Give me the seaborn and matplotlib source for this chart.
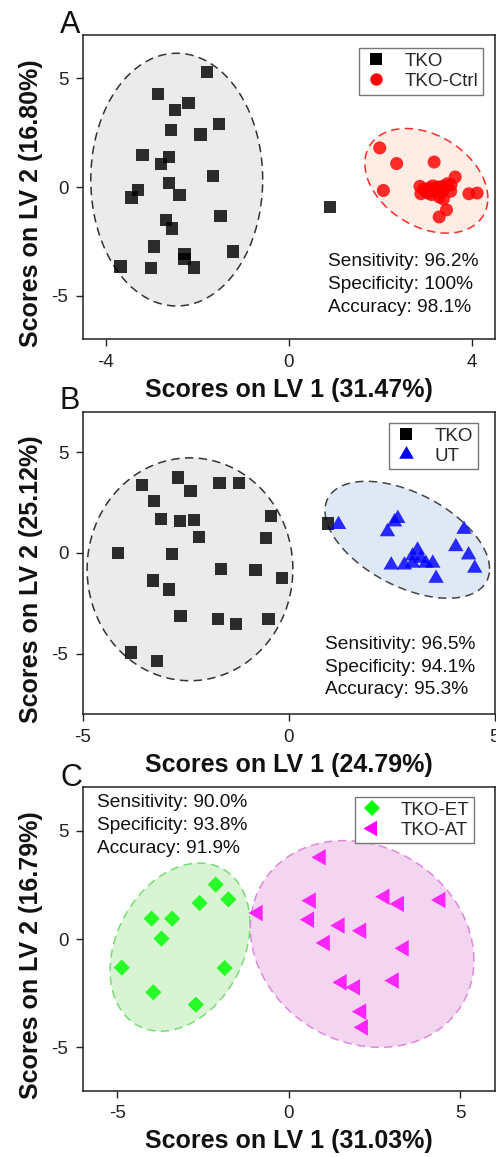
import numpy as np
import pandas as pd
import matplotlib
matplotlib.use("Agg")
import matplotlib.pyplot as plt
from matplotlib.lines import Line2D
import seaborn as sns

sns.set_style("ticks")
plt.rcParams["font.family"] = ["Liberation Sans", "DejaVu Sans"]
plt.rcParams["axes.unicode_minus"] = False

# ---------------- Panel A data ----------------
A_tko_x = [-1.79, -2.86, -2.19, -2.49, -1.53, -2.57, -1.93, -3.20, -2.62, -2.79,
           -1.66, -3.29, -3.44, -2.62, -2.39, -2.68, -2.55, -1.49, -2.95, -2.28,
           -2.28, -2.08, -1.22, -3.68, -3.02, 0.91]
A_tko_y = [5.31, 4.29, 3.86, 3.55, 2.91, 2.63, 2.42, 1.49, 1.38, 1.06,
           0.51, -0.14, -0.48, 0.17, -0.37, -1.51, -1.91, -1.32, -2.74, -3.08,
           -3.32, -3.71, -2.97, -3.66, -3.74, -0.92]
A_ctrl_x = [1.99, 2.36, 3.18, 2.07, 2.87, 2.89, 3.07, 3.22, 3.36, 3.47, 3.64, 3.29,
            3.54, 3.45, 3.29, 3.94, 4.12, 3.00, 3.12, 3.40, 3.30, 3.15, 2.95, 3.55,
            3.25, 3.38, 3.05]
A_ctrl_y = [1.80, 1.08, 1.15, -0.16, 0.03, -0.31, -0.05, -0.12, 0.03, 0.15, 0.46, -0.46,
            -0.20, -1.05, -1.38, -0.31, -0.28, -0.20, -0.35, -0.10, -0.25, 0.05, -0.10, 0.10,
            0.00, -0.55, -0.28]

# ---------------- Panel B data ----------------
B_tko_x = [-3.56, -2.69, -2.39, -1.68, -1.21, -3.28, -3.11, -2.64, -2.31, -2.18,
           -0.43, -0.55, -4.15, -2.84, -1.64, -0.81, -0.17, -3.30, -2.91, -2.63,
           -1.72, -1.28, -0.49, -3.83, -3.20, 0.95]
B_tko_y = [3.38, 3.73, 3.07, 3.48, 3.48, 2.56, 1.67, 1.58, 1.63, 0.79,
           1.82, 0.74, 0.00, -0.07, -0.79, -0.87, -1.24, -1.37, -1.82, -3.12,
           -3.27, -3.55, -3.30, -4.95, -5.36, 1.45]
B_ut_x = [1.21, 2.65, 2.57, 2.40, 3.13, 3.01, 3.21, 2.49, 2.81, 3.01, 3.33, 3.50,
          3.58, 4.26, 4.06, 4.37, 4.52]
B_ut_y = [1.40, 1.70, 1.53, 1.04, 0.13, -0.16, -0.28, -0.61, -0.61, -0.52, -0.52, -0.52,
          -1.27, 1.16, 0.30, -0.11, -0.77]

# ---------------- Panel C data ----------------
C_et_x = [-2.13, -2.60, -1.76, -4.00, -3.40, -3.71, -4.87, -1.87, -3.95, -2.71]
C_et_y = [2.51, 1.66, 1.83, 0.94, 0.94, 0.02, -1.32, -1.34, -2.46, -3.03]
C_at_x = [0.94, -0.90, 0.65, 0.60, 2.80, 3.22, 4.43, 1.49, 2.12, 1.06, 3.36, 1.55,
          1.94, 3.07, 2.12, 2.17]
C_at_y = [3.77, 1.20, 1.77, 0.89, 1.95, 1.62, 1.80, 0.62, 0.38, -0.18, -0.43, -2.00,
          -2.23, -1.92, -3.35, -4.08]

# ellipse parameters: center x, center y, half-range x, half-range y, phase
ell_A = [(-2.45, 0.34, 1.88, 5.82, 0.0), (3.01, 0.285, 1.345, 2.41, -0.336)]
ell_B = [(-2.40, -0.82, 2.50, 5.53, 0.0), (2.88, 0.645, 2.00, 2.90, -0.52)]
ell_C = [(-3.17, -0.375, 2.04, 3.88, 0.28), (2.14, -0.23, 3.26, 4.77, -0.16)]

labels_A = ["TKO", "TKO-Ctrl"]
labels_B = ["TKO", "UT"]
labels_C = ["TKO-ET", "TKO-AT"]

stats_A = "Sensitivity: 96.2%\nSpecificity: 100%\nAccuracy: 98.1%"
stats_B = "Sensitivity: 96.5%\nSpecificity: 94.1%\nAccuracy: 95.3%"
stats_C = "Sensitivity: 90.0%\nSpecificity: 93.8%\nAccuracy: 91.9%"

xlab = ["Scores on LV 1 (31.47%)", "Scores on LV 1 (24.79%)", "Scores on LV 1 (31.03%)"]
ylab = ["Scores on LV 2 (16.80%)", "Scores on LV 2 (25.12%)", "Scores on LV 2 (16.79%)"]

colors = {"TKO": "#000000", "TKO-Ctrl": "#ff0000", "UT": "#0000ff",
          "TKO-ET": "#00ff00", "TKO-AT": "#ff00ff"}
markers = {"TKO": "s", "TKO-Ctrl": "o", "UT": (3, 0, 0),
           "TKO-ET": "D", "TKO-AT": (3, 0, 90)}
sizes = {"TKO": 78, "TKO-Ctrl": 88, "UT": 165, "TKO-ET": 68, "TKO-AT": 190}

fig = plt.figure(figsize=(4.96, 11.57), dpi=100)
W, H = 496.0, 1157.0
boxes = [(83, 35, 339), (83, 411.7, 714), (83, 787.3, 1090.7)]
axes = []
for (l, t, b) in boxes:
    axes.append(fig.add_axes([l / W, 1 - b / H, (494.5 - l) / W, (b - t) / H]))


def ellipse(ax, p, fc, ec):
    cx, cy, a, bb, ph = p
    t = np.linspace(0, 2 * np.pi, 300)
    x = cx + a * np.cos(t)
    y = cy + bb * np.sin(t + ph)
    ax.fill(x, y, facecolor=fc, edgecolor="none", zorder=1)
    ax.plot(x, y, color=ec, lw=1.1, ls=(0, (5.5, 3.5)), zorder=2)


def panel(ax, groups, ells, ell_colors, labels, stats, stats_pos, xlim, ylim,
          xticks, leg_anchor, xl, yl):
    for p, (fc, ec) in zip(ells, ell_colors):
        ellipse(ax, p, fc, ec)
    frames = []
    for name, (xs, ys) in zip(labels, groups):
        frames.append(pd.DataFrame({"LV1": xs, "LV2": ys, "group": name}))
    df = pd.concat(frames, ignore_index=True)
    sns.scatterplot(data=df, x="LV1", y="LV2", hue="group", style="group",
                    size="group", palette={k: colors[k] for k in labels},
                    markers={k: markers[k] for k in labels},
                    sizes={k: sizes[k] for k in labels},
                    alpha=0.82, linewidth=0, edgecolor="none", legend=False,
                    ax=ax, zorder=3)
    ax.set_xlim(*xlim)
    ax.set_ylim(*ylim)
    ax.set_xticks(xticks)
    ax.set_yticks([-5, 0, 5])
    ax.tick_params(direction="out", length=5, width=1, labelsize=13.5,
                   pad=5.5, color="#222222", labelcolor="#222222")
    for s in ax.spines.values():
        s.set_linewidth(1.1)
        s.set_color("#222222")
        s.set_visible(True)
    ax.set_xlabel(xl, fontsize=18, fontweight="bold", labelpad=5, color="#111111")
    ax.set_ylabel(yl, fontsize=18, fontweight="bold", color="#111111", va="center")
    ax.yaxis.set_label_coords(-0.127, 0.447)
    handles = [Line2D([], [], ls="none", marker=markers[k], color=colors[k],
                      markersize=np.sqrt(sizes[k]) * 0.95, markeredgewidth=0)
               for k in labels]
    leg = ax.legend(handles, labels, loc="upper right", bbox_to_anchor=leg_anchor,
                    borderaxespad=0, fontsize=13.5, frameon=True, fancybox=False,
                    framealpha=1, edgecolor="#777777", handlelength=1.3,
                    handletextpad=0.9, labelspacing=0.15, borderpad=0.25)
    leg.get_frame().set_linewidth(1.0)
    ax.text(stats_pos[0], stats_pos[1], stats, transform=ax.transAxes,
            fontsize=13.8, va="top", ha="left", linespacing=1.45, color="#111111")


panel(axes[0], [(A_tko_x, A_tko_y), (A_ctrl_x, A_ctrl_y)], ell_A,
      [("#ebebeb", "#333333"), ("#fdede4", "#ff2a2a")], labels_A, stats_A,
      (0.595, 0.283), (-4.5, 4.5), (-7, 7), [-4, 0, 4], (0.973, 0.957),
      xlab[0], ylab[0])
panel(axes[1], [(B_tko_x, B_tko_y), (B_ut_x, B_ut_y)], ell_B,
      [("#ebebeb", "#333333"), ("#dfe9f6", "#444444")], labels_B, stats_B,
      (0.587, 0.259), (-5, 5), (-8, 7), [-5, 0, 5], (0.959, 0.963),
      xlab[1], ylab[1])
panel(axes[2], [(C_et_x, C_et_y), (C_at_x, C_at_y)], ell_C,
      [("#d8f4d2", "#77dd77"), ("#f3d5ef", "#dd88dd")], labels_C, stats_C,
      (0.034, 0.978), (-6, 6), (-7, 7), [-5, 0, 5], (0.951, 0.968),
      xlab[2], ylab[2])

for letter, base in zip(["A", "B", "C"], [33, 409, 786]):
    fig.text(60 / W, 1 - base / H, letter, fontsize=22, ha="left", va="baseline",
             color="#111111")

fig.savefig("out.png", dpi=100)
